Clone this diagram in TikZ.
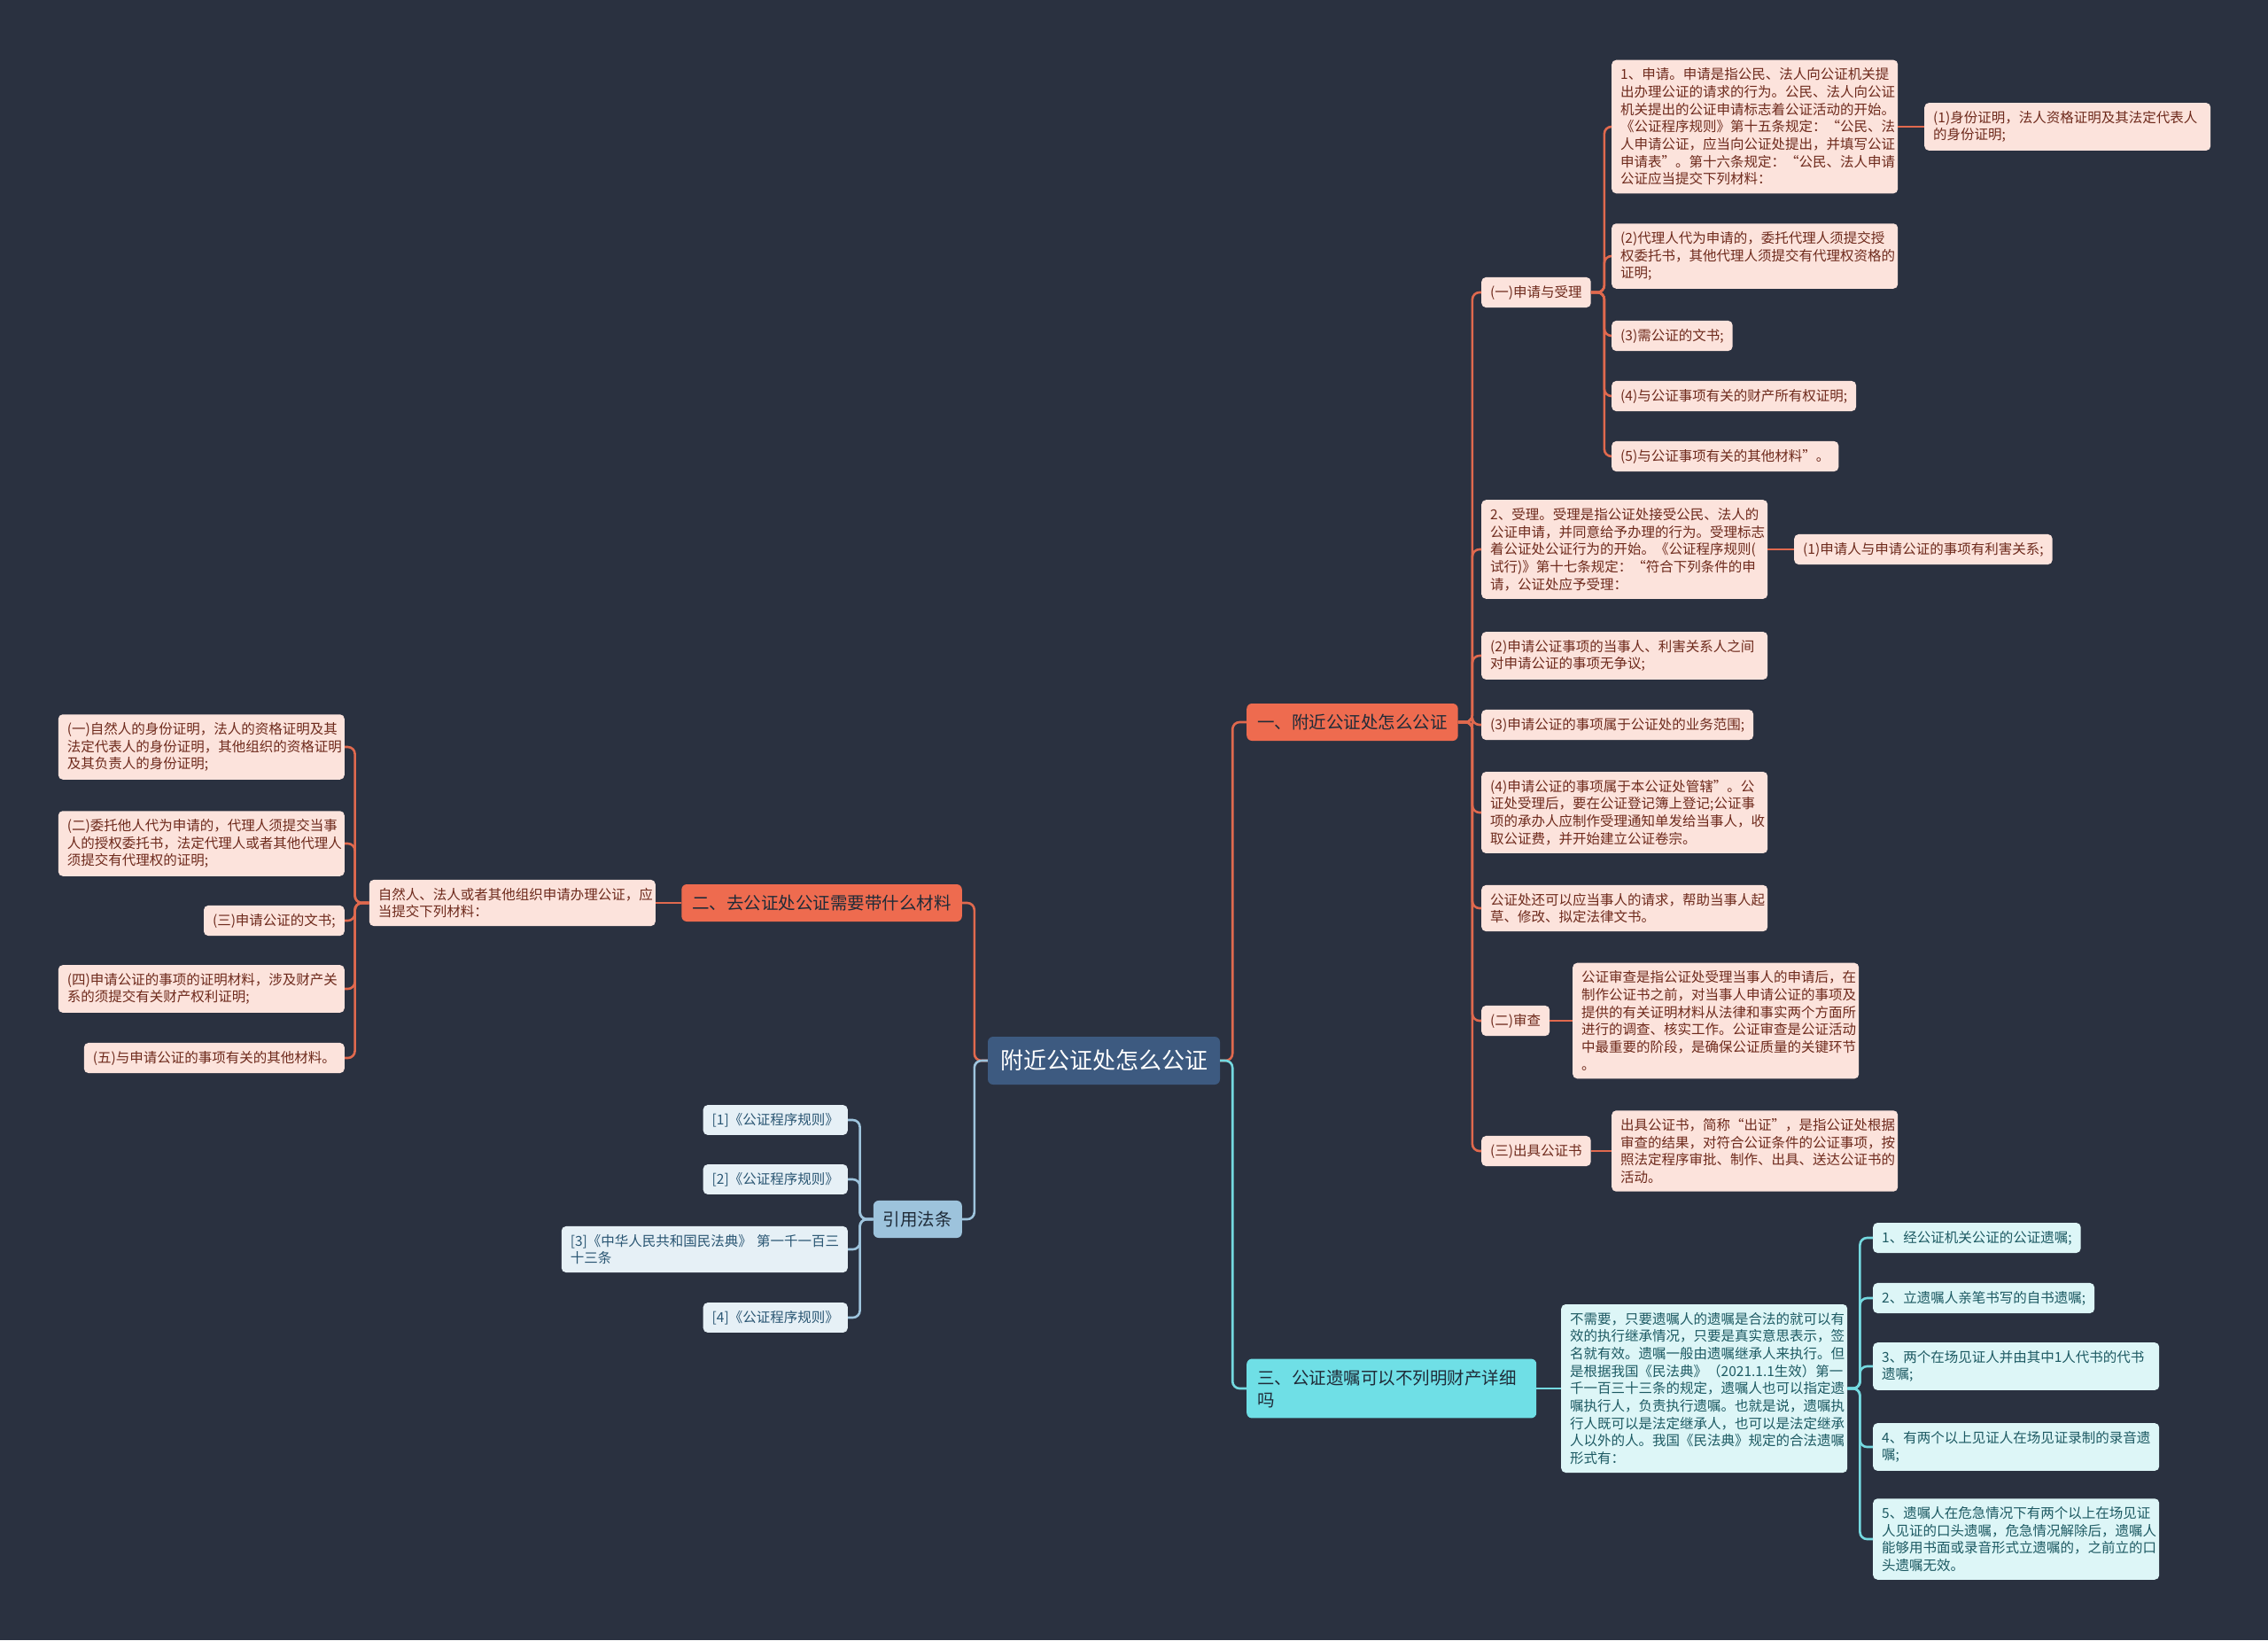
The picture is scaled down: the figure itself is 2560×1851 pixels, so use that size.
\documentclass[tikz,border=0pt]{standalone}
\usepackage{fontspec}
\setmainfont{Noto Sans CJK SC}
\usepackage{tikz}

\definecolor{bgcol}{HTML}{2A3140}
\definecolor{rootcol}{HTML}{3D5A80}
\definecolor{orfill}{HTML}{EE6B4F}
\definecolor{orline}{HTML}{E0694E}
\definecolor{pinkfill}{HTML}{FCE3DC}
\definecolor{pinktxt}{HTML}{6E2A1C}
\definecolor{cyfill}{HTML}{6FDFE6}
\definecolor{cyline}{HTML}{74D9E0}
\definecolor{cylt}{HTML}{DDF6F7}
\definecolor{cytxt}{HTML}{1D5A63}
\definecolor{blfill}{HTML}{9DC3DC}
\definecolor{blline}{HTML}{9EC4DD}
\definecolor{bllt}{HTML}{E6F0F6}
\definecolor{bltxt}{HTML}{2A5673}
\definecolor{darktxt}{HTML}{1F2B38}

\begin{document}
\begin{tikzpicture}[x=1bp, y=-1bp,
  leaf/.style={rounded corners=5bp, inner xsep=10bp, inner ysep=9bp, align=left,
    font=\fontsize{15.5bp}{19.7bp}\selectfont},
  pk/.style={leaf, fill=pinkfill, text=pinktxt},
  cy/.style={leaf, fill=cylt, text=cytxt},
  bl/.style={leaf, fill=bllt, text=bltxt},
  wide/.style={text width=303bp},
  branch/.style={rounded corners=6bp, inner xsep=12bp, inner ysep=12bp, align=left,
    text=darktxt, font=\fontsize{19.5bp}{25bp}\selectfont},
  link/.style={line width=2.6bp, rounded corners=8bp}
]
  \fill[bgcol] (0,0) rectangle (2560,1851);
  \useasboundingbox (0,0) rectangle (2560,1851);

  % centre and main branches
  \node[rounded corners=6bp, fill=rootcol, text=white, inner xsep=14bp, inner ysep=15bp,
    font=\fontsize{26bp}{30bp}\selectfont] (main) at (1246,1197) {附近公证处怎么公证};
  \node[branch, fill=orfill, anchor=west] (howto) at (1407,815) {一、附近公证处怎么公证};
  \node[branch, fill=cyfill, anchor=west, text width=303bp] (will) at (1407,1567) {三、公证遗嘱可以不列明财产详细\\吗};
  \node[branch, fill=orfill, anchor=east] (material) at (1086,1019) {二、去公证处公证需要带什么材料};
  \node[branch, fill=blfill, anchor=east, inner xsep=11bp] (laws) at (1086,1376) {引用法条};

  % 一
  \node[pk, anchor=west] (apply) at (1672,330) {(一)申请与受理};
  \node[pk, wide, anchor=west] (accept) at (1672,620) {2、受理。受理是指公证处接受公民、法人的\\公证申请，并同意给予办理的行为。受理标志\\着公证处公证行为的开始。《公证程序规则(\\试行)》第十七条规定：“符合下列条件的申\\请，公证处应予受理：};
  \node[pk, wide, anchor=west] (acc2) at (1672,740) {(2)申请公证事项的当事人、利害关系人之间\\对申请公证的事项无争议;};
  \node[pk, anchor=west] (acc3) at (1672,818) {(3)申请公证的事项属于公证处的业务范围;};
  \node[pk, wide, anchor=west] (acc4) at (1672,917) {(4)申请公证的事项属于本公证处管辖”。公\\证处受理后，要在公证登记簿上登记;公证事\\项的承办人应制作受理通知单发给当事人，收\\取公证费，并开始建立公证卷宗。};
  \node[pk, wide, anchor=west] (draft) at (1672,1025) {公证处还可以应当事人的请求，帮助当事人起\\草、修改、拟定法律文书。};
  \node[pk, anchor=west] (review) at (1672,1152) {(二)审查};
  \node[pk, anchor=west] (issue) at (1672,1299) {(三)出具公证书};

  \node[pk, wide, anchor=west] (app1) at (1819,143) {1、申请。申请是指公民、法人向公证机关提\\出办理公证的请求的行为。公民、法人向公证\\机关提出的公证申请标志着公证活动的开始。\\《公证程序规则》第十五条规定：“公民、法\\人申请公证，应当向公证处提出，并填写公证\\申请表”。第十六条规定：“公民、法人申请\\公证应当提交下列材料：};
  \node[pk, wide, anchor=west] (app2) at (1819,289) {(2)代理人代为申请的，委托代理人须提交授\\权委托书，其他代理人须提交有代理权资格的\\证明;};
  \node[pk, anchor=west] (app3) at (1819,379) {(3)需公证的文书;};
  \node[pk, anchor=west] (app4) at (1819,447) {(4)与公证事项有关的财产所有权证明;};
  \node[pk, anchor=west] (app5) at (1819,515) {(5)与公证事项有关的其他材料”。};
  \node[pk, wide, anchor=west] (idproof) at (2172,143) {(1)身份证明，法人资格证明及其法定代表人\\的身份证明;};
  \node[pk, anchor=west] (interest) at (2025,620) {(1)申请人与申请公证的事项有利害关系;};
  \node[pk, wide, anchor=west] (reviewtxt) at (1775,1152) {公证审查是指公证处受理当事人的申请后，在\\制作公证书之前，对当事人申请公证的事项及\\提供的有关证明材料从法律和事实两个方面所\\进行的调查、核实工作。公证审查是公证活动\\中最重要的阶段，是确保公证质量的关键环节\\。};
  \node[pk, wide, anchor=west] (issuetxt) at (1819,1299) {出具公证书，简称“出证”，是指公证处根据\\审查的结果，对符合公证条件的公证事项，按\\照法定程序审批、制作、出具、送达公证书的\\活动。};

  % 三
  \node[cy, wide, anchor=west] (willtxt) at (1762,1567) {不需要，只要遗嘱人的遗嘱是合法的就可以有\\效的执行继承情况，只要是真实意思表示，签\\名就有效。遗嘱一般由遗嘱继承人来执行。但\\是根据我国《民法典》（2021.1.1生效）第一\\千一百三十三条的规定，遗嘱人也可以指定遗\\嘱执行人，负责执行遗嘱。也就是说，遗嘱执\\行人既可以是法定继承人，也可以是法定继承\\人以外的人。我国《民法典》规定的合法遗嘱\\形式有：};
  \node[cy, anchor=west] (will1) at (2114,1397) {1、经公证机关公证的公证遗嘱;};
  \node[cy, anchor=west] (will2) at (2114,1465) {2、立遗嘱人亲笔书写的自书遗嘱;};
  \node[cy, wide, anchor=west] (will3) at (2114,1542) {3、两个在场见证人并由其中1人代书的代书\\遗嘱;};
  \node[cy, wide, anchor=west] (will4) at (2114,1633) {4、有两个以上见证人在场见证录制的录音遗\\嘱;};
  \node[cy, wide, anchor=west] (will5) at (2114,1737) {5、遗嘱人在危急情况下有两个以上在场见证\\人见证的口头遗嘱，危急情况解除后，遗嘱人\\能够用书面或录音形式立遗嘱的，之前立的口\\头遗嘱无效。};

  % 二
  \node[pk, wide, anchor=east] (mattxt) at (740,1019) {自然人、法人或者其他组织申请办理公证，应\\当提交下列材料：};
  \node[pk, wide, anchor=east] (mat1) at (389,843) {(一)自然人的身份证明，法人的资格证明及其\\法定代表人的身份证明，其他组织的资格证明\\及其负责人的身份证明;};
  \node[pk, wide, anchor=east] (mat2) at (389,952) {(二)委托他人代为申请的，代理人须提交当事\\人的授权委托书，法定代理人或者其他代理人\\须提交有代理权的证明;};
  \node[pk, anchor=east] (mat3) at (389,1039) {(三)申请公证的文书;};
  \node[pk, wide, anchor=east] (mat4) at (389,1116) {(四)申请公证的事项的证明材料，涉及财产关\\系的须提交有关财产权利证明;};
  \node[pk, anchor=east] (mat5) at (389,1194) {(五)与申请公证的事项有关的其他材料。};

  % 引用法条
  \node[bl, anchor=east] (law1) at (957,1264) {[1]《公证程序规则》};
  \node[bl, anchor=east] (law2) at (957,1331) {[2]《公证程序规则》};
  \node[bl, wide, anchor=east] (law3) at (957,1410) {[3]《中华人民共和国民法典》~第一千一百三\\十三条};
  \node[bl, anchor=east] (law4) at (957,1487) {[4]《公证程序规则》};

  % connectors
  \draw[link, orline] (main.east) -- ++(14,0) |- (howto.west);
  \draw[link, cyline] (main.east) -- ++(14,0) |- (will.west);
  \draw[link, orline] (main.west) -- ++(-15,0) |- (material.east);
  \draw[link, blline] (main.west) -- ++(-15,0) |- (laws.east);

  \foreach \c in {apply,accept,acc2,acc3,acc4,draft,review,issue}
    \draw[link, orline] (howto.east) -- ++(16,0) |- (\c.west);
  \foreach \c in {app1,app2,app3,app4,app5}
    \draw[link, orline] (apply.east) -- ++(15,0) |- (\c.west);
  \draw[link, orline] (app1.east) -- (idproof.west);
  \draw[link, orline] (accept.east) -- (interest.west);
  \draw[link, orline] (review.east) -- (reviewtxt.west);
  \draw[link, orline] (issue.east) -- (issuetxt.west);

  \draw[link, cyline] (will.east) -- (willtxt.west);
  \foreach \c in {will1,will2,will3,will4,will5}
    \draw[link, cyline] (willtxt.east) -- ++(14,0) |- (\c.west);

  \draw[link, orline] (material.west) -- (mattxt.east);
  \foreach \c in {mat1,mat2,mat3,mat4,mat5}
    \draw[link, orline] (mattxt.west) -- ++(-16,0) |- (\c.east);

  \foreach \c in {law1,law2,law3,law4}
    \draw[link, blline] (laws.west) -- ++(-15,0) |- (\c.east);
\end{tikzpicture}
\end{document}
